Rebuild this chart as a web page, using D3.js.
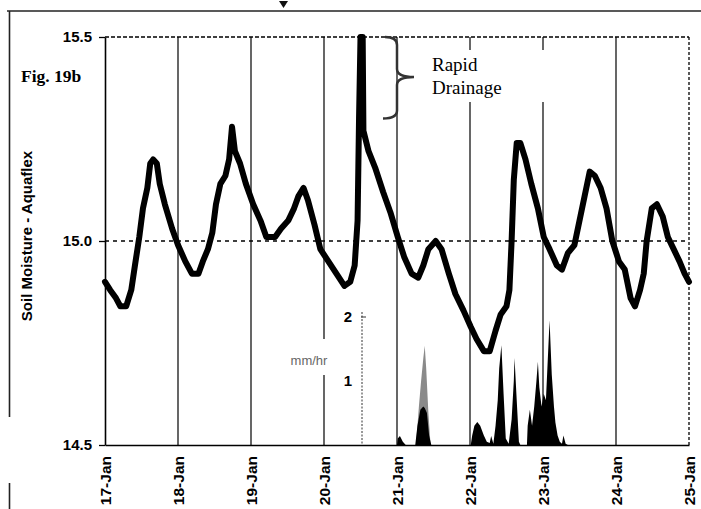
<!DOCTYPE html>
<html><head><meta charset="utf-8">
<script src="https://cdn.jsdelivr.net/npm/d3@7"></script>
<style>
html,body{margin:0;padding:0;background:#fff;}
svg{display:block;}
</style></head><body>
<svg id="chart" width="701" height="509"></svg>
<script>
// Soil moisture (Aquaflex) trace: days after 17-Jan 00:00 and reading
const moistureDays = [0.00,0.07,0.15,0.21,0.29,0.36,0.41,0.47,0.52,0.58,
  0.62,0.66,0.71,0.75,0.82,0.92,1.00,1.10,1.19,1.28,
  1.34,1.41,1.47,1.52,1.58,1.65,1.70,1.74,1.78,1.85,
  1.93,2.03,2.13,2.21,2.33,2.41,2.51,2.59,2.65,2.72,
  2.78,2.87,2.95,3.06,3.17,3.28,3.36,3.42,3.46,3.48,
  3.50,3.53,3.54,3.61,3.70,3.81,3.91,4.01,4.10,4.20,
  4.29,4.36,4.43,4.53,4.61,4.71,4.80,4.91,5.01,5.09,
  5.19,5.27,5.35,5.42,5.50,5.54,5.57,5.60,5.64,5.69,
  5.76,5.84,5.93,6.01,6.09,6.19,6.26,6.34,6.43,6.50,
  6.57,6.64,6.71,6.79,6.87,6.95,7.04,7.12,7.20,7.26,
  7.33,7.38,7.42,7.49,7.56,7.64,7.71,7.79,7.87,7.94,
  8.00];
const moistureValues = [14.90,14.88,14.86,14.84,14.84,14.88,14.94,15.01,15.08,15.13,
  15.19,15.20,15.19,15.14,15.09,15.03,14.99,14.95,14.92,14.92,
  14.95,14.98,15.02,15.09,15.14,15.16,15.20,15.28,15.22,15.19,
  15.14,15.09,15.05,15.01,15.01,15.03,15.05,15.08,15.11,15.13,
  15.10,15.04,14.98,14.95,14.92,14.89,14.90,14.94,15.05,15.30,
  15.50,15.50,15.27,15.22,15.18,15.12,15.07,15.01,14.96,14.92,
  14.91,14.94,14.98,15.00,14.98,14.92,14.87,14.83,14.79,14.76,
  14.73,14.73,14.78,14.82,14.84,14.88,15.00,15.15,15.24,15.24,
  15.20,15.14,15.08,15.01,14.98,14.94,14.93,14.97,14.99,15.05,
  15.11,15.17,15.16,15.13,15.08,15.00,14.95,14.93,14.86,14.84,
  14.88,14.92,15.00,15.08,15.09,15.06,15.01,14.98,14.95,14.92,
  14.90];

// Rainfall intensity (mm/hr)
const rainDays = [4.00,4.01,4.04,4.08,4.12, 4.25,4.28,4.32,4.36,4.38,4.41,4.44,4.47,
  5.01,5.03,5.06,5.10,5.14,5.19,5.23,5.27,5.29,5.32,5.35,5.38,5.40,5.43,5.46,5.49,
  5.53,5.57,5.60,5.61,5.64,5.67,5.69,
  5.78,5.79,5.82,5.85,5.88,5.91,5.93,5.95,5.98,6.01,6.04,6.06,6.09,6.12,6.15,6.17,
  6.20,6.23,6.26,6.28,6.31,6.34];
const rainRates = [0,0.10,0.14,0.05,0, 0,0.30,0.55,0.60,0.58,0.50,0.15,0,
  0,0.15,0.30,0.36,0.30,0.15,0.05,0.03,0.14,0.02,0.30,0.70,1.20,1.56,0.80,0.10,
  0.02,0.40,1.00,1.36,0.70,0.05,0,
  0,0.30,0.55,0.30,0.60,1.00,1.30,0.90,0.60,0.80,0.70,1.20,1.95,1.10,0.60,0.35,
  0.15,0.05,0.02,0.15,0.02,0];
// Second (stippled) rainfall record around 21-Jan
const rainGrayDays = [4.26,4.30,4.33,4.36,4.38,4.40,4.43,4.46];
const rainGrayRates = [0,0.60,1.00,1.35,1.55,1.20,0.50,0];

const moistureTicks = [14.5, 15.0, 15.5];
const rainTicks = [1, 2];

const startDate = new Date(2000, 0, 17);
const endDate = new Date(2000, 0, 25);
const dayToDate = d => new Date(startDate.getTime() + d * 864e5);

const svg = d3.select("#chart");
const plotLeft = 105, plotRight = 689, plotTop = 37, plotBottom = 445;

const x = d3.scaleTime().domain([startDate, endDate]).range([plotLeft, plotRight]);
const y = d3.scaleLinear().domain([14.5, 15.5]).range([plotBottom, plotTop]);
const yRain = d3.scaleLinear().domain([0, 2]).range([plotBottom, 317]);

// page frame
svg.append("line").attr("x1", 7).attr("x2", 701).attr("y1", 11).attr("y2", 11)
  .attr("stroke", "#222").attr("stroke-width", 1.4);
svg.append("line").attr("x1", 9.5).attr("x2", 9.5).attr("y1", 11).attr("y2", 417)
  .attr("stroke", "#222").attr("stroke-width", 1.6);
svg.append("line").attr("x1", 9.5).attr("x2", 9.5).attr("y1", 483).attr("y2", 509)
  .attr("stroke", "#222").attr("stroke-width", 1.6);
svg.append("path").attr("d", "M279,1 L288,1 L283.5,8 Z").attr("fill", "#111");

// vertical day grid
const days = d3.timeDay.range(d3.timeDay.offset(startDate, 1), endDate);
svg.append("g").selectAll("line").data(days).join("line")
  .attr("x1", d => x(d)).attr("x2", d => x(d))
  .attr("y1", plotTop).attr("y2", plotBottom)
  .attr("stroke", "#000").attr("stroke-width", 1.2);
// right border
svg.append("line").attr("x1", x(endDate)).attr("x2", x(endDate))
  .attr("y1", plotTop).attr("y2", plotBottom)
  .attr("stroke", "#000").attr("stroke-width", 1.3).attr("stroke-dasharray", "3,2");
// horizontal grid
svg.append("line").attr("x1", plotLeft).attr("x2", plotRight).attr("y1", y(15.5)).attr("y2", y(15.5))
  .attr("stroke", "#000").attr("stroke-width", 1.5).attr("stroke-dasharray", "4,2");
svg.append("line").attr("x1", plotLeft).attr("x2", plotRight).attr("y1", y(15.0)).attr("y2", y(15.0))
  .attr("stroke", "#000").attr("stroke-width", 1.6).attr("stroke-dasharray", "4,4");

// label backgrounds
svg.append("rect").attr("x", 425).attr("y", 50).attr("width", 135).attr("height", 52).attr("fill", "#fff");
svg.append("rect").attr("x", 285).attr("y", 339).attr("width", 52).attr("height", 36).attr("fill", "#fff");

// axes
const xAxis = svg.append("g").attr("transform", `translate(0,${plotBottom})`)
  .call(d3.axisBottom(x).ticks(d3.timeDay.every(1)).tickFormat(d3.timeFormat("%d-%b")).tickSize(0));
xAxis.select(".domain").attr("stroke", "#000").attr("stroke-width", 1.3);
xAxis.selectAll("text")
  .attr("x", -11).attr("y", 0).attr("dy", "0.35em")
  .attr("transform", "rotate(-90)").attr("text-anchor", "end")
  .attr("font-family", "Liberation Sans, Arial, sans-serif").attr("font-weight", "bold")
  .attr("font-size", 15.5).attr("fill", "#000");

const yAxis = svg.append("g").attr("transform", `translate(${plotLeft},0)`)
  .call(d3.axisLeft(y).tickValues(moistureTicks).tickFormat(d3.format(".1f")).tickSize(6).tickSizeOuter(0).tickPadding(7));
yAxis.select(".domain").attr("stroke", "#000").attr("stroke-width", 1.6);
yAxis.selectAll(".tick line").attr("stroke", "#000").attr("stroke-width", 1.3);
yAxis.selectAll("text").attr("font-family", "Liberation Sans, Arial, sans-serif")
  .attr("font-weight", "bold").attr("font-size", 15).attr("fill", "#000");

// rainfall axis
const rainAxisX = 362;
svg.append("line").attr("x1", rainAxisX).attr("x2", rainAxisX).attr("y1", 312).attr("y2", plotBottom)
  .attr("stroke", "#333").attr("stroke-width", 1).attr("stroke-dasharray", "2,1.5");
svg.append("line").attr("x1", rainAxisX - 1).attr("x2", rainAxisX + 4)
  .attr("y1", yRain(2)).attr("y2", yRain(2)).attr("stroke", "#333").attr("stroke-width", 1);
const rAxis = svg.append("g").attr("transform", `translate(${rainAxisX},0)`)
  .call(d3.axisLeft(yRain).tickValues(rainTicks).tickFormat(d3.format("d")).tickSize(0).tickPadding(10));
rAxis.select(".domain").remove();
rAxis.selectAll("text").attr("font-family", "Liberation Sans, Arial, sans-serif")
  .attr("font-weight", "bold").attr("font-size", 15).attr("fill", "#000");
svg.append("text").attr("x", 309).attr("y", 365).attr("text-anchor", "middle")
  .attr("font-family", "Liberation Sans, Arial, sans-serif").attr("font-size", 13)
  .attr("fill", "#666").text("mm/hr");

// rainfall areas
const grayArea = d3.area().x((d, i) => x(dayToDate(rainGrayDays[i])))
  .y0(yRain(0)).y1(d => yRain(d));
svg.append("path").datum(rainGrayRates).attr("d", grayArea).attr("fill", "#8a8a8a");
const rainArea = d3.area().x((d, i) => x(dayToDate(rainDays[i])))
  .y0(yRain(0)).y1(d => yRain(d));
svg.append("path").datum(rainRates).attr("d", rainArea).attr("fill", "#000");

// soil moisture trace
const line = d3.line().x((d, i) => x(dayToDate(moistureDays[i]))).y(d => y(d));
svg.append("path").datum(moistureValues).attr("d", line)
  .attr("fill", "none").attr("stroke", "#000").attr("stroke-width", 6)
  .attr("stroke-linejoin", "round").attr("stroke-linecap", "round");

// rapid drainage brace
const bx = x(dayToDate(4));
const bTop = y(15.5), bMid = y(15.402), bBot = y(15.30);
svg.append("path")
  .attr("d", `M${bx - 12},${bTop} Q${bx},${bTop} ${bx},${bTop + 8} L${bx},${bMid - 8} Q${bx},${bMid} ${bx + 17},${bMid} Q${bx},${bMid} ${bx},${bMid + 8} L${bx},${bBot - 8} Q${bx},${bBot} ${bx - 14},${bBot}`)
  .attr("fill", "none").attr("stroke", "#333").attr("stroke-width", 2.5);

// annotations
svg.append("text").attr("x", 432).attr("y", 71)
  .attr("font-family", "Liberation Serif, Times New Roman, serif").attr("font-size", 19).attr("fill", "#000")
  .text("Rapid");
svg.append("text").attr("x", 432).attr("y", 94)
  .attr("font-family", "Liberation Serif, Times New Roman, serif").attr("font-size", 19).attr("fill", "#000")
  .text("Drainage");
svg.append("text").attr("x", 21).attr("y", 82)
  .attr("font-family", "Liberation Serif, Times New Roman, serif").attr("font-weight", "bold")
  .attr("font-size", 17.5).attr("fill", "#000").text("Fig. 19b");
svg.append("text").attr("transform", "translate(32,236) rotate(-90)").attr("text-anchor", "middle")
  .attr("font-family", "Liberation Sans, Arial, sans-serif").attr("font-weight", "bold")
  .attr("font-size", 15).attr("fill", "#000").text("Soil Moisture - Aquaflex");
</script>
</body></html>
